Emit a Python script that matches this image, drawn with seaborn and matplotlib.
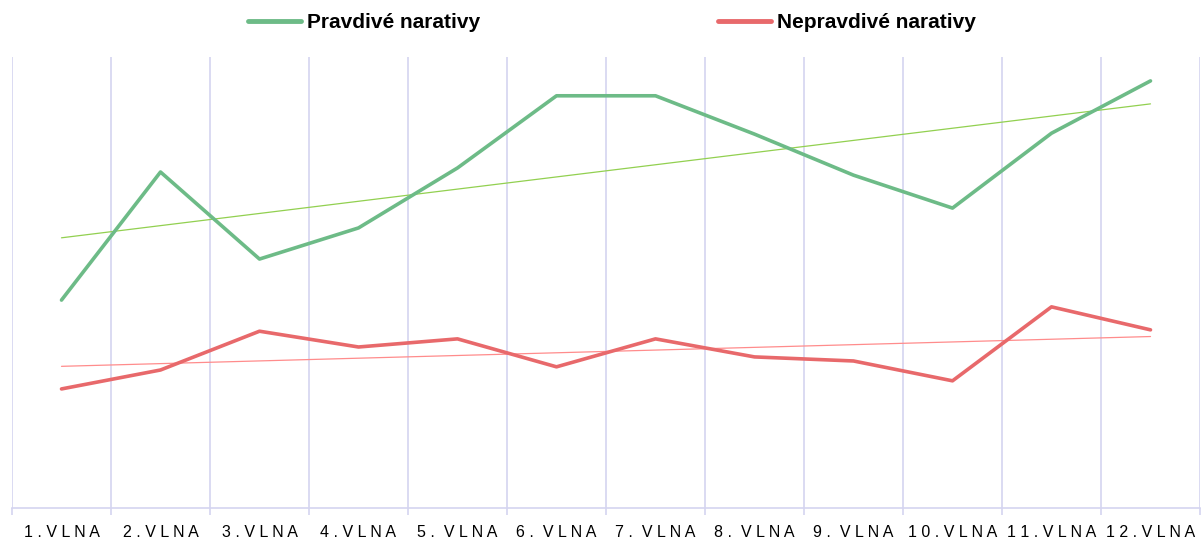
import numpy as np
import pandas as pd
import matplotlib
matplotlib.use("Agg")
import matplotlib.pyplot as plt
import seaborn as sns

# data (no y axis shown, arbitrary units)
waves = ["1.VLNA", "2.VLNA", "3.VLNA", "4.VLNA", "5. VLNA", "6. VLNA",
         "7. VLNA", "8. VLNA", "9. VLNA", "10.VLNA", "11.VLNA", "12.VLNA"]
pravdive = [46.1, 74.5, 55.2, 62.1, 75.4, 91.4, 91.4, 82.9, 73.8, 66.5, 83.1, 94.7]
nepravdive = [26.4, 30.6, 39.2, 35.7, 37.5, 31.3, 37.5, 33.5, 32.6, 28.2, 44.6, 39.5]

series_names = ["Pravdivé narativy", "Nepravdivé narativy"]
line_colors = ["#6dbb87", "#e8696b"]
trend_colors = ["#92d050", "#ff8c8c"]
grid_color = "#d4d4f0"

sns.set_style("white")
plt.rcParams["font.family"] = ["Liberation Sans", "DejaVu Sans"]

df = pd.DataFrame({
    "x": list(range(len(waves))) * 2,
    "value": pravdive + nepravdive,
    "serie": [series_names[0]] * len(waves) + [series_names[1]] * len(waves),
})

fig = plt.figure(figsize=(12.04, 5.41), dpi=100)
ax = fig.add_axes([12 / 1204, 1 - 508 / 541, 1188 / 1204, (508 - 57) / 541])

sns.lineplot(data=df, x="x", y="value", hue="serie", palette=line_colors,
             linewidth=2.6, ax=ax, legend=False, zorder=3)

# linear trend lines
xs = np.arange(len(waves))
for vals, col in zip([pravdive, nepravdive], trend_colors):
    k, q = np.polyfit(xs, vals, 1)
    ax.plot(xs, k * xs + q, color=col, linewidth=0.9, zorder=2)

ax.set_xlim(-0.5, len(waves) - 0.5)
ax.set_ylim(0, 100)
ax.set_xlabel("")
ax.set_ylabel("")
ax.set_yticks([])

# vertical grid on category boundaries
bounds = np.arange(len(waves) + 1) - 0.5
ax.set_xticks(bounds, minor=True)
ax.grid(True, axis="x", which="minor", color=grid_color, linewidth=1.2)
ax.tick_params(axis="x", which="minor", bottom=True, length=5, color=grid_color, width=1.2)


def spaced(label):
    return " ".join(label).replace("   ", "  ")


ax.set_xticks(xs)
ax.set_xticklabels([spaced(w) for w in waves], fontsize=11.5, color="black")
ax.tick_params(axis="x", which="major", length=0, pad=12)

for side in ["top", "left", "right"]:
    ax.spines[side].set_visible(False)
ax.spines["bottom"].set_color(grid_color)
ax.spines["bottom"].set_linewidth(1.2)

handles = [plt.Line2D([], [], color=c, linewidth=3.5) for c in line_colors]
fig.legend(handles, series_names, loc="center", bbox_to_anchor=(612 / 1204, 1 - 23 / 541),
           ncol=2, frameon=False, handlelength=2.55, handletextpad=0.3,
           columnspacing=11.4, labelcolor="black", prop={"weight": "bold", "size": 15})

fig.savefig("out.png", dpi=100)
